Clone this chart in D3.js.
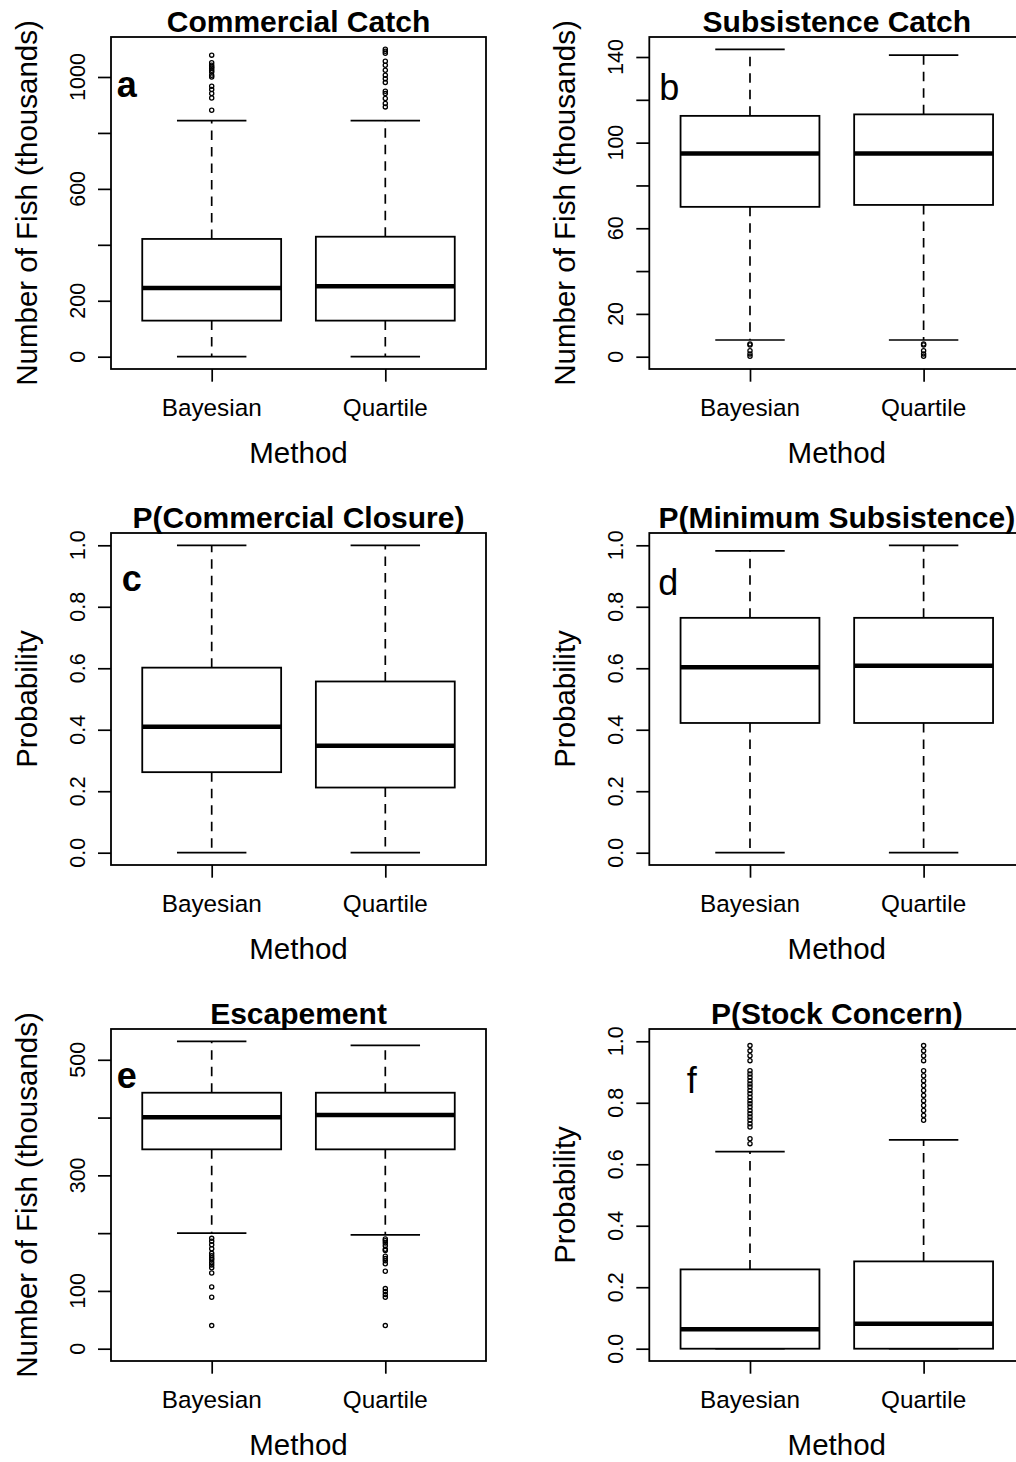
<!DOCTYPE html>
<html>
<head>
<meta charset="utf-8">
<script src="https://cdn.jsdelivr.net/npm/d3@7"></script>
<style>
  html, body { margin: 0; padding: 0; background: #fff; }
  svg { display: block; }
  text { font-family: "Liberation Sans", Arial, Helvetica, sans-serif; fill: #000; }
</style>
</head>
<body>
<svg id="chart" width="1016" height="1462"></svg>
<script>
// Methods compared in every panel
const methods = ["Bayesian", "Quartile"];

const panelTitles = [
  "Commercial Catch", "Subsistence Catch",
  "P(Commercial Closure)", "P(Minimum Subsistence)",
  "Escapement", "P(Stock Concern)"
];
const panelLetters = ["a", "b", "c", "d", "e", "f"];
const yAxisTitles = [
  "Number of Fish (thousands)", "Number of Fish (thousands)",
  "Probability", "Probability",
  "Number of Fish (thousands)", "Probability"
];

// Five-number summaries, one pair [Bayesian, Quartile] per panel
const lowerWhisker  = [[0, 0], [7.8, 7.8], [0, 0], [0, 0], [200, 197], [0, 0]];
const lowerQuartile = [[129, 129], [70, 70.9], [0.262, 0.212], [0.422, 0.422], [345, 345], [0, 0]];
const medians       = [[246, 252], [94.9, 94.9], [0.41, 0.348], [0.603, 0.608], [400.4, 404.4], [0.063, 0.081]];
const upperQuartile = [[421, 429], [112.5, 113.2], [0.602, 0.557], [0.764, 0.764], [443, 443], [0.258, 0.284]];
const upperWhisker  = [[844, 844], [143.6, 140.9], [1, 1], [0.982, 1], [532, 525], [0.641, 0.679]];

// Outlying simulation results beyond the whiskers
const outliers = [
  [[1078, 1051, 1042, 1036, 1031, 1024, 1018, 1006, 1000, 967, 955, 941, 925, 881],
   [1099, 1092, 1085, 1056, 1042, 1024, 1006, 994, 980, 949, 941, 923, 905, 893]],
  [[5.9, 5.5, 2.8, 1.3, 0.2],
   [5.9, 5.5, 2.8, 1.3, 0.2]],
  [[], []],
  [[], []],
  [[191, 186, 180, 173, 165, 161, 157, 154, 149, 145, 140, 131, 107, 89, 40],
   [190, 187, 183, 178, 172, 170, 160, 156, 152, 147, 134, 104, 99, 94, 89, 40]],
  [[0.986, 0.969, 0.953, 0.937, 0.904, 0.894, 0.883, 0.872, 0.861, 0.851, 0.840, 0.829,
    0.818, 0.807, 0.797, 0.786, 0.775, 0.764, 0.754, 0.743, 0.732, 0.721, 0.683, 0.667],
   [0.986, 0.969, 0.953, 0.937, 0.904, 0.888, 0.872, 0.856, 0.840, 0.824, 0.807, 0.791,
    0.775, 0.759, 0.743]]
];

// Axis limits and ticks
const yLimits = [[0, 1099], [0, 143.6], [0, 1], [0, 1], [0, 532], [0, 1]];
const yTicks = [
  [0, 200, 400, 600, 800, 1000],
  [0, 20, 40, 60, 80, 100, 120, 140],
  [0, 0.2, 0.4, 0.6, 0.8, 1.0],
  [0, 0.2, 0.4, 0.6, 0.8, 1.0],
  [0, 100, 200, 300, 400, 500],
  [0, 0.2, 0.4, 0.6, 0.8, 1.0]
];
const yTickLabels = [
  ["0", "200", "", "600", "", "1000"],
  ["0", "20", "", "60", "", "100", "", "140"],
  ["0.0", "0.2", "0.4", "0.6", "0.8", "1.0"],
  ["0.0", "0.2", "0.4", "0.6", "0.8", "1.0"],
  ["0", "100", "", "300", "", "500"],
  ["0.0", "0.2", "0.4", "0.6", "0.8", "1.0"]
];
const xAxisTitle = "Method";

// ---- layout ----
const plotW = 375, plotH = 332;
const colX = [111, 649.3];
const rowY = [37, 533, 1029];
const letterPos = [[5.7, 59.7, true], [10, 63.3, false], [10.7, 58.4, true],
                   [9, 61.7, false], [5.7, 59.3, true], [37.4, 64.3, false]];
const dash = "9.5,7";

const svg = d3.select("#chart");

panelTitles.forEach((title, i) => {
  const ox = colX[i % 2], oy = rowY[Math.floor(i / 2)];
  const g = svg.append("g").attr("transform", `translate(${ox},${oy})`);

  const x = d3.scalePoint().domain(methods).range([0, plotW]).padding(0.58);
  const step = x.step();
  const boxW = step * 0.8, capW = boxW * 0.5;

  const [lo, hi] = yLimits[i];
  const pad = (hi - lo) * 0.04;
  const y = d3.scaleLinear().domain([lo - pad, hi + pad]).range([plotH, 0]);

  // boxes
  methods.forEach((m, j) => {
    const cx = x(m);
    const bg = g.append("g");
    // whiskers (dashed)
    bg.append("line")
      .attr("x1", cx).attr("x2", cx)
      .attr("y1", y(upperQuartile[i][j])).attr("y2", y(upperWhisker[i][j]))
      .attr("stroke", "#000").attr("stroke-width", 1.7).attr("stroke-dasharray", dash);
    bg.append("line")
      .attr("x1", cx).attr("x2", cx)
      .attr("y1", y(lowerQuartile[i][j])).attr("y2", y(lowerWhisker[i][j]))
      .attr("stroke", "#000").attr("stroke-width", 1.7).attr("stroke-dasharray", dash);
    // staples
    [upperWhisker[i][j], lowerWhisker[i][j]].forEach(v => {
      bg.append("line")
        .attr("x1", cx - capW / 2).attr("x2", cx + capW / 2)
        .attr("y1", y(v)).attr("y2", y(v))
        .attr("stroke", "#000").attr("stroke-width", 1.7);
    });
    // box
    bg.append("rect")
      .attr("x", cx - boxW / 2).attr("width", boxW)
      .attr("y", y(upperQuartile[i][j]))
      .attr("height", y(lowerQuartile[i][j]) - y(upperQuartile[i][j]))
      .attr("fill", "#fff").attr("stroke", "#000").attr("stroke-width", 1.8);
    // median
    bg.append("line")
      .attr("x1", cx - boxW / 2).attr("x2", cx + boxW / 2)
      .attr("y1", y(medians[i][j])).attr("y2", y(medians[i][j]))
      .attr("stroke", "#000").attr("stroke-width", 4.5);
    // outliers
    bg.selectAll("circle.out").data(outliers[i][j]).enter().append("circle")
      .attr("class", "out")
      .attr("cx", cx).attr("cy", d => y(d)).attr("r", 2.1)
      .attr("fill", "none").attr("stroke", "#000").attr("stroke-width", 1.3);
  });

  // frame
  g.append("rect").attr("x", 0).attr("y", 0).attr("width", plotW).attr("height", plotH)
    .attr("fill", "none").attr("stroke", "#000").attr("stroke-width", 1.8);

  // y axis
  const ya = g.append("g").call(d3.axisLeft(y).tickValues(yTicks[i]).tickSize(13).tickFormat(""));
  ya.select(".domain").remove();
  ya.selectAll(".tick line").attr("stroke", "#000").attr("stroke-width", 1.7);
  g.selectAll("text.ytl").data(yTicks[i]).enter().append("text")
    .attr("class", "ytl")
    .attr("transform", d => `translate(-26,${y(d)}) rotate(-90)`)
    .attr("text-anchor", "middle")
    .attr("font-size", 21.5)
    .text((d, k) => yTickLabels[i][k]);

  // x axis
  const xa = g.append("g").attr("transform", `translate(0,${plotH})`)
    .call(d3.axisBottom(x).tickSize(12.7).tickFormat(""));
  xa.select(".domain").remove();
  xa.selectAll(".tick line").attr("stroke", "#000").attr("stroke-width", 1.7);
  g.selectAll("text.xtl").data(methods).enter().append("text")
    .attr("class", "xtl")
    .attr("x", d => x(d)).attr("y", plotH + 47)
    .attr("text-anchor", "middle").attr("font-size", 24.3)
    .text(d => d);

  // axis titles
  g.append("text").attr("x", plotW / 2).attr("y", plotH + 94)
    .attr("text-anchor", "middle").attr("font-size", 29.5).text(xAxisTitle);
  g.append("text")
    .attr("transform", `translate(-74,${plotH / 2}) rotate(-90)`)
    .attr("text-anchor", "middle").attr("font-size", 29.5).text(yAxisTitles[i]);

  // panel title
  g.append("text").attr("x", plotW / 2).attr("y", -5.5)
    .attr("text-anchor", "middle").attr("font-size", 30).attr("font-weight", "bold")
    .text(title);

  // panel letter
  const lp = letterPos[i];
  g.append("text").attr("x", lp[0]).attr("y", lp[1])
    .attr("font-size", 36).attr("font-weight", lp[2] ? "bold" : "normal")
    .text(panelLetters[i]);
});
</script>
</body>
</html>
